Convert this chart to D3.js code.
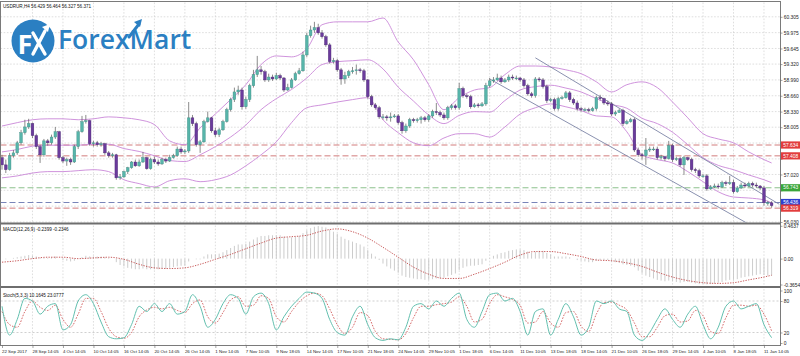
<!DOCTYPE html>
<html><head><meta charset="utf-8">
<script src="https://cdn.jsdelivr.net/npm/d3@7"></script>
<style>html,body{margin:0;padding:0;background:#fff;}svg{display:block;}</style>
</head><body>
<svg id="chart" width="800" height="356"></svg>
<script>
// ---------------- DATA ----------------
const symbolTitle = "USDRUR,H4  56.429 56.464 56.327 56.371";
const macdTitle = "MACD(12,26,9) -0.2399 -0.2346";
const stochTitle = "Stoch(5,3,3) 10.1645 23.0777";

const dateLabels = ["22 Sep 2017","28 Sep 14:05","4 Oct 14:05","10 Oct 14:05","16 Oct 14:05","20 Oct 14:05","26 Oct 14:05","1 Nov 14:05","7 Nov 10:05","9 Nov 18:05","14 Nov 14:05","17 Nov 10:05","21 Nov 18:05","24 Nov 14:05","29 Nov 10:05","1 Dec 18:05","6 Dec 14:05","11 Dec 10:05","13 Dec 18:05","18 Dec 14:05","21 Dec 10:05","26 Dec 18:05","29 Dec 14:05","4 Jan 10:05","8 Jan 18:05","11 Jan 14:05"];
const dateBars = [0,8,16,24,32,40,48,56,64,72,80,88,96,104,112,120,128,136,144,152,160,168,176,184,192,200];

const opens = [
57.37,57.22,57.12,57.41,57.47,57.68,57.89,58.01,58.08,57.83,
57.60,57.43,57.72,57.68,57.80,57.91,57.37,57.30,57.33,57.28,
57.60,57.91,58.12,58.14,57.66,57.68,57.64,57.66,57.47,57.41,
57.43,56.95,56.97,57.08,57.16,57.28,57.20,57.28,57.37,57.14,
57.33,57.28,57.24,57.33,57.30,57.37,57.41,57.55,57.49,57.51,
58.20,58.08,57.64,57.70,58.12,58.20,57.93,57.85,57.95,58.12,
58.37,58.58,58.74,58.78,58.43,58.58,58.87,59.10,59.20,59.16,
58.99,59.05,59.01,59.08,59.03,58.78,58.83,58.99,59.12,59.18,
59.51,59.91,60.03,60.08,59.97,59.89,59.72,59.37,59.39,59.20,
59.01,59.08,59.16,59.18,59.20,59.18,58.99,58.64,58.47,58.41,
58.22,58.22,58.20,58.22,58.24,58.10,57.93,58.03,58.16,58.14,
58.16,58.20,58.16,58.24,58.33,58.31,58.26,58.20,58.41,58.45,
58.41,58.81,58.66,58.64,58.43,58.47,58.45,58.49,58.87,58.97,
58.99,59.03,58.95,58.99,59.05,59.03,59.03,58.99,58.87,58.70,
58.66,59.01,58.99,58.85,58.56,58.58,58.39,58.60,58.62,58.72,
58.58,58.51,58.39,58.37,58.37,58.35,58.39,58.62,58.60,58.51,
58.49,58.28,58.31,58.35,58.08,58.12,58.16,57.53,57.43,57.41,
57.53,57.55,57.55,57.37,57.39,57.35,57.62,57.33,57.35,57.22,
57.37,57.33,57.12,57.10,56.99,56.99,56.72,56.76,56.78,56.76,
56.85,56.83,56.85,56.66,56.74,56.80,56.78,56.83,56.80,56.78,
56.74,56.43,56.429];
const highs = [
57.43,57.33,57.47,57.53,57.72,57.95,58.16,58.18,58.10,57.87,
57.64,57.76,57.76,57.85,58.01,57.93,57.41,57.37,57.37,57.64,
57.95,58.24,58.26,58.16,57.72,57.72,57.70,57.68,57.51,57.47,
57.45,57.03,57.10,57.18,57.30,57.33,57.33,57.49,57.39,57.37,
57.39,57.33,57.37,57.37,57.43,57.45,57.60,57.60,57.55,58.53,
58.26,58.12,57.74,58.16,58.33,58.22,57.99,57.99,58.16,58.41,
58.62,58.83,58.87,58.83,58.64,58.91,59.20,59.49,59.28,59.20,
59.12,59.10,59.14,59.12,59.05,58.91,59.03,59.16,59.24,59.58,
59.97,60.12,60.20,60.16,60.03,59.93,59.76,59.45,59.43,59.24,
59.16,59.20,59.26,59.31,59.24,59.22,59.01,58.68,58.51,58.45,
58.28,58.26,58.31,58.28,58.28,58.14,58.08,58.20,58.20,58.20,
58.24,58.24,58.28,58.37,58.51,58.35,58.31,58.45,58.49,58.49,
58.93,58.85,58.70,58.68,58.51,58.51,58.53,58.93,59.03,59.05,
59.12,59.08,59.03,59.10,59.10,59.08,59.05,59.03,58.91,58.74,
59.05,59.05,59.03,58.89,58.62,58.62,58.64,58.66,58.76,58.76,
58.62,58.56,58.43,58.41,58.41,58.43,58.66,58.68,58.62,58.56,
58.53,58.35,58.39,58.39,58.16,58.20,58.20,57.58,57.47,57.78,
57.60,57.60,57.60,57.43,57.41,57.72,57.66,57.39,57.39,57.41,
57.39,57.37,57.16,57.14,57.03,57.03,56.80,56.83,56.83,56.89,
56.89,56.99,56.91,56.78,56.85,56.85,56.87,56.87,56.85,56.80,
56.78,56.47,56.464];
const lows = [
57.12,57.05,57.10,57.37,57.43,57.64,57.85,57.97,57.78,57.55,
57.26,57.39,57.62,57.64,57.76,57.33,57.26,57.20,57.22,57.26,
57.55,57.89,58.08,57.62,57.60,57.60,57.60,57.43,57.37,57.37,
56.91,56.91,56.95,57.03,57.14,57.18,57.18,57.26,57.12,57.12,
57.24,57.20,57.22,57.26,57.28,57.35,57.39,57.45,57.45,57.47,
58.03,57.60,57.47,57.68,58.10,57.89,57.80,57.80,57.93,58.10,
58.33,58.53,58.68,58.37,58.39,58.53,58.83,59.05,59.10,58.95,
58.95,58.97,58.99,58.99,58.74,58.76,58.81,58.97,59.10,59.16,
59.47,59.87,59.97,59.93,59.85,59.68,59.33,59.33,59.16,58.89,
58.91,59.03,59.12,59.10,59.14,58.95,58.60,58.43,58.37,58.18,
58.16,58.14,58.12,58.20,58.06,57.87,57.89,57.99,58.10,58.10,
58.08,58.12,58.12,58.20,58.26,58.22,58.16,58.16,58.37,58.37,
58.37,58.62,58.60,58.39,58.41,58.41,58.43,58.45,58.83,58.93,
58.97,58.91,58.93,58.95,58.99,58.99,58.95,58.83,58.66,58.62,
58.62,58.95,58.81,58.51,58.53,58.35,58.35,58.58,58.60,58.53,
58.47,58.35,58.33,58.33,58.31,58.33,58.35,58.56,58.47,58.45,
58.24,58.24,58.31,58.03,58.06,58.10,57.49,57.39,57.33,57.22,
57.49,57.51,57.33,57.33,57.30,57.33,57.28,57.30,57.18,57.01,
57.30,57.08,57.05,56.95,56.95,56.68,56.70,56.74,56.72,56.74,
56.78,56.80,56.62,56.64,56.72,56.74,56.76,56.76,56.74,56.70,
56.37,56.37,56.327];
const closes = [
57.22,57.12,57.41,57.47,57.68,57.89,58.01,58.08,57.83,57.60,
57.43,57.72,57.68,57.80,57.91,57.37,57.30,57.33,57.28,57.60,
57.91,58.12,58.14,57.66,57.68,57.64,57.66,57.47,57.41,57.43,
56.95,56.97,57.08,57.16,57.28,57.20,57.28,57.37,57.14,57.33,
57.28,57.24,57.33,57.30,57.37,57.41,57.55,57.49,57.51,58.20,
58.08,57.64,57.70,58.12,58.20,57.93,57.85,57.95,58.12,58.37,
58.58,58.74,58.78,58.43,58.58,58.87,59.10,59.20,59.16,58.99,
59.05,59.01,59.08,59.03,58.78,58.83,58.99,59.12,59.18,59.51,
59.91,60.03,60.08,59.97,59.89,59.72,59.37,59.39,59.20,59.01,
59.08,59.16,59.18,59.20,59.18,58.99,58.64,58.47,58.41,58.22,
58.22,58.20,58.22,58.24,58.10,57.93,58.03,58.16,58.14,58.16,
58.20,58.16,58.24,58.33,58.31,58.26,58.20,58.41,58.45,58.41,
58.81,58.66,58.64,58.43,58.47,58.45,58.49,58.87,58.97,58.99,
59.03,58.95,58.99,59.05,59.03,59.03,58.99,58.87,58.70,58.66,
59.01,58.99,58.85,58.56,58.58,58.39,58.60,58.62,58.72,58.58,
58.51,58.39,58.37,58.37,58.35,58.39,58.62,58.60,58.51,58.49,
58.28,58.31,58.35,58.08,58.12,58.16,57.53,57.43,57.41,57.53,
57.55,57.55,57.37,57.39,57.35,57.62,57.33,57.35,57.22,57.37,
57.33,57.12,57.10,56.99,56.99,56.72,56.76,56.78,56.76,56.85,
56.83,56.85,56.66,56.74,56.80,56.78,56.83,56.80,56.78,56.74,
56.43,56.43,56.371];

// Bollinger Bands (20,2) read at every 4th bar
const bbBars = [0,4,8,12,16,20,24,28,32,36,40,44,48,52,56,60,64,68,72,76,80,84,88,92,96,100,104,108,112,116,120,124,128,132,136,140,144,148,152,156,160,164,168,172,176,180,184,188,192,196,200,202];
const bbUpper = [
58.03,58.10,58.16,58.18,58.18,58.16,58.18,58.22,58.20,58.16,
58.06,57.72,57.64,57.99,58.28,58.58,58.89,59.31,59.49,59.47,
59.64,60.14,60.20,60.20,60.20,60.28,59.78,59.41,58.89,58.37,
58.62,58.78,58.83,59.10,59.28,59.28,59.26,59.20,59.12,58.95,
58.74,58.89,58.95,58.83,58.53,58.20,57.87,57.76,57.68,57.49,
57.33,57.26];
const bbMiddle = [
57.49,57.54,57.61,57.63,57.63,57.63,57.65,57.65,57.56,57.50,
57.41,57.31,57.29,57.43,57.60,57.80,58.05,58.37,58.60,58.79,
59.03,59.31,59.37,59.39,59.41,59.22,58.84,58.55,58.26,58.08,
58.25,58.33,58.32,58.56,58.78,58.85,58.88,58.82,58.74,58.60,
58.48,58.40,58.19,58.08,57.90,57.64,57.37,57.21,57.12,57.01,
56.91,56.85];
const bbLower = [
56.95,56.99,57.05,57.08,57.08,57.10,57.12,57.08,56.91,56.83,
56.76,56.89,56.93,56.87,56.91,57.01,57.20,57.43,57.70,58.10,
58.41,58.47,58.53,58.58,58.62,58.16,57.89,57.68,57.62,57.78,
57.87,57.87,57.80,58.01,58.28,58.41,58.49,58.43,58.35,58.24,
58.22,57.91,57.43,57.33,57.26,57.08,56.87,56.66,56.55,56.53,
56.49,56.43];

// MACD main (histogram), one value per bar; signal read at bbBars
const macdMain = [
0.00,-0.01,0.00,0.01,0.02,0.03,0.04,0.05,0.04,0.03,
0.01,0.01,0.01,0.02,0.03,0.00,-0.02,-0.03,-0.04,-0.03,
0.00,0.02,0.04,0.03,0.03,0.03,0.03,0.02,0.01,0.00,
-0.05,-0.09,-0.11,-0.13,-0.14,-0.15,-0.15,-0.14,-0.15,-0.15,
-0.15,-0.15,-0.14,-0.14,-0.13,-0.12,-0.11,-0.10,-0.10,-0.04,
0.00,-0.01,-0.01,0.03,0.06,0.06,0.06,0.07,0.09,0.12,
0.15,0.18,0.20,0.20,0.21,0.24,0.27,0.30,0.32,0.32,
0.33,0.33,0.33,0.33,0.31,0.30,0.30,0.31,0.32,0.36,
0.40,0.43,0.45,0.46,0.45,0.44,0.41,0.38,0.35,0.31,
0.28,0.26,0.24,0.22,0.20,0.17,0.12,0.07,0.03,-0.02,
-0.07,-0.11,-0.14,-0.17,-0.20,-0.24,-0.26,-0.27,-0.28,-0.29,
-0.29,-0.30,-0.30,-0.29,-0.28,-0.28,-0.27,-0.25,-0.23,-0.21,
-0.16,-0.13,-0.11,-0.10,-0.10,-0.09,-0.08,-0.03,0.01,0.04,
0.06,0.08,0.09,0.11,0.12,0.13,0.13,0.12,0.10,0.08,
0.10,0.11,0.11,0.08,0.06,0.03,0.03,0.03,0.03,0.02,
0.00,-0.02,-0.03,-0.04,-0.05,-0.05,-0.03,-0.02,-0.02,-0.02,
-0.04,-0.05,-0.06,-0.08,-0.09,-0.10,-0.12,-0.17,-0.21,-0.24,
-0.26,-0.28,-0.30,-0.31,-0.32,-0.31,-0.32,-0.33,-0.34,-0.33,
-0.33,-0.34,-0.35,-0.36,-0.36,-0.365,-0.36,-0.35,-0.34,-0.33,
-0.31,-0.30,-0.30,-0.29,-0.27,-0.26,-0.25,-0.24,-0.23,-0.22,
-0.23,-0.24,-0.2399];
const macdSignal = [
-0.05,-0.03,0.00,0.02,0.02,0.00,0.01,0.02,-0.01,-0.08,
-0.13,-0.14,-0.13,-0.08,-0.01,0.06,0.14,0.22,0.29,0.31,
0.33,0.39,0.42,0.38,0.29,0.16,0.02,-0.12,-0.22,-0.28,
-0.28,-0.22,-0.14,-0.05,0.05,0.10,0.10,0.07,0.03,-0.02,
-0.03,-0.06,-0.11,-0.19,-0.26,-0.31,-0.34,-0.35,-0.34,-0.30,
-0.26,-0.2346];

// Stochastic (5,3,3) read at every 2nd bar
const stochStep = 2;
const stochMain = [
70,15,45,85,80,55,70,75,25,35,
80,92,75,40,12,8,10,35,70,60,
75,60,75,55,60,92,70,30,45,75,
92,85,55,88,95,75,25,50,70,85,
97,95,85,45,20,15,50,70,35,10,
5,8,6,30,70,75,65,80,70,85,
95,45,30,60,92,95,80,85,60,15,
60,65,15,45,75,50,15,30,80,75,
80,65,60,15,5,20,45,65,45,30,
55,70,35,8,30,70,80,65,70,75,
35,10.16];
const stochSignal = [
60,35,30,60,80,68,62,72,45,30,
55,85,85,60,28,12,9,20,50,63,
68,65,68,62,58,75,82,50,38,58,
82,88,70,72,90,85,50,40,60,78,
90,95,90,65,35,18,30,58,52,22,
8,7,6,18,48,70,70,73,75,78,
88,70,40,45,75,92,88,83,72,38,
40,60,38,30,58,60,32,22,55,77,
78,72,63,38,12,12,30,52,55,40,
42,62,52,22,18,48,72,72,70,72,
55,23.08];

const priceTicks = [60.305,59.975,59.645,59.320,58.990,58.660,58.330,58.005,57.675,57.345,57.020,56.690,56.360,56.030];
const levelValues = [57.634,57.408,56.743,56.436,56.319];
const levelKinds = ["red","red","green","blue","red"];
const channelBars = [[140,204],[128,204]];
const channelPrices = [[59.45,56.40],[59.01,55.63]];
const macdTicks = [0.4637,0,-0.3654];
const macdTickText = ["0.4637","0.00","-0.3654"];
const stochTicks = [100,80,20,0];
const stochLevels = [80,20];

// ---------------- DRAW ----------------
const svg = d3.select("#chart");
const FONT = "'Liberation Sans', Arial, sans-serif";
const L = 0.5, R = 780.5;
const P = {mainTop: 2.5, mainBot: 222.5, macdTop: 224.5, macdBot: 285.8, stTop: 288, stBot: 345.5};

const x = d3.scaleLinear().domain([0, 202]).range([2, 771.6]);
const yP = d3.scaleLinear().domain([56.03, 60.5925]).range([222, 3]);
const yM = d3.scaleLinear().domain([-0.3654, 0.4637]).range([284.5, 225.8]);
const yS = d3.scaleLinear().domain([0, 100]).range([343, 290.5]);

svg.append("rect").attr("width",800).attr("height",356).attr("fill","#fff");

const defs = svg.append("defs");
function clip(id, y0, y1){
  defs.append("clipPath").attr("id", id).append("rect")
    .attr("x", L).attr("y", y0).attr("width", R - L).attr("height", y1 - y0);
}
clip("cMain", P.mainTop, P.mainBot);
clip("cMacd", P.macdTop + 1, P.macdBot - 1);
clip("cSt", P.stTop + 1, P.stBot);

// grid
const grid = svg.append("g").attr("stroke","#c8c8c8").attr("stroke-width",0.6).attr("stroke-dasharray","1.6,1.6");
const panels = [[P.mainTop, P.mainBot],[P.macdTop+1, P.macdBot-1],[P.stTop+1, P.stBot]];
dateBars.slice(1).forEach(b => panels.forEach(([a, c]) =>
  grid.append("line").attr("x1", x(b)).attr("x2", x(b)).attr("y1", a).attr("y2", c)));
priceTicks.forEach(p => grid.append("line").attr("x1", L).attr("x2", R).attr("y1", yP(p)).attr("y2", yP(p)));
stochLevels.forEach(v => grid.append("line").attr("x1", L).attr("x2", R).attr("y1", yS(v)).attr("y2", yS(v))
  .attr("stroke","#b0b0b0").attr("stroke-dasharray","2,2"));

// logo
const logo = svg.append("g");
logo.append("circle").attr("cx",33).attr("cy",41).attr("r",21.5).attr("fill","#2b7fc2");
logo.append("text").attr("x",17.5).attr("y",54).text("F")
  .attr("font-family","'Open Sans', sans-serif").attr("font-weight",700).attr("font-size",27).attr("fill","#fff");
logo.append("path").attr("d","M33 54 L45 31 M33 33 L45 54").attr("stroke","#fff").attr("stroke-width",3.4).attr("fill","none").attr("stroke-linecap","round");
logo.append("path").attr("d","M42 27 L50 24 L48 32 Z").attr("fill","#fff");
logo.append("text").attr("x",58).attr("y",48.5).text("ForexMart")
  .attr("font-family","'Open Sans', sans-serif").attr("font-weight",600).attr("font-size",26.5).attr("fill","#2b7fc2");
logo.append("path").attr("d","M129 37 L139 24").attr("stroke","#2b7fc2").attr("stroke-width",3).attr("stroke-linecap","round");
logo.append("path").attr("d","M134 22 L142 19 L140 27 Z").attr("fill","#2b7fc2");

// main panel content
const gMain = svg.append("g").attr("clip-path","url(#cMain)");
const levelLine = {red:"#d27c7c", green:"#8cc08c", blue:"#7884b8"};
const levelBg = {red:"#e23d3d", green:"#3aa63a", blue:"#2e3fcf"};
levelValues.forEach((v,i) => gMain.append("line").attr("x1",L).attr("x2",R).attr("y1",yP(v)).attr("y2",yP(v))
  .attr("stroke", levelLine[levelKinds[i]]).attr("stroke-width",1).attr("stroke-dasharray","6,3"));

const bbLine = d3.line().x((d,i) => x(bbBars[i])).y(d => yP(d)).curve(d3.curveMonotoneX);
[bbUpper, bbMiddle, bbLower].forEach(arr => gMain.append("path").attr("d", bbLine(arr))
  .attr("fill","none").attr("stroke","#c987d8").attr("stroke-width",0.9));

channelBars.forEach((bars,k) => gMain.append("line")
  .attr("x1", x(bars[0])).attr("y1", yP(channelPrices[k][0]))
  .attr("x2", x(bars[1])).attr("y2", yP(channelPrices[k][1]))
  .attr("stroke","#7d84a6").attr("stroke-width",0.9));

const candles = gMain.append("g");
closes.forEach((c,i) => {
  const o = opens[i], bull = c >= o;
  candles.append("line").attr("x1",x(i)).attr("x2",x(i)).attr("y1",yP(highs[i])).attr("y2",yP(lows[i]))
    .attr("stroke","#5a5a5a").attr("stroke-width",0.7);
  const y0 = yP(Math.max(o,c)), y1 = yP(Math.min(o,c));
  candles.append("rect").attr("x",x(i)-1.35).attr("width",2.7)
    .attr("y", y0).attr("height", Math.max(y1 - y0, 0.8))
    .attr("fill", bull ? "#57b5aa" : "#6b3b9d").attr("stroke", bull ? "#3f8e86" : "#4a2870").attr("stroke-width",0.4);
});

// MACD
const gMacd = svg.append("g").attr("clip-path","url(#cMacd)");
macdMain.forEach((v,i) => gMacd.append("line").attr("x1",x(i)).attr("x2",x(i)).attr("y1",yM(0)).attr("y2",yM(v))
  .attr("stroke","#c6c6c6").attr("stroke-width",0.9));
gMacd.append("path").attr("d", d3.line().x((d,i)=>x(bbBars[i])).y(d=>yM(d)).curve(d3.curveMonotoneX)(macdSignal))
  .attr("fill","none").attr("stroke","#c24a4a").attr("stroke-width",0.9).attr("stroke-dasharray","1.3,1.3");

// Stochastic
const gSt = svg.append("g").attr("clip-path","url(#cSt)");
const stLine = d3.line().x((d,i)=>x(i*stochStep)).y(d=>yS(d)).curve(d3.curveMonotoneX);
gSt.append("path").attr("d", stLine(stochSignal)).attr("fill","none").attr("stroke","#d05a5a").attr("stroke-width",0.9).attr("stroke-dasharray","1.6,1.4");
gSt.append("path").attr("d", stLine(stochMain)).attr("fill","none").attr("stroke","#62bfae").attr("stroke-width",1);

// frames
const frame = svg.append("g").attr("stroke","#7a7a7a").attr("fill","none");
frame.append("rect").attr("x",L).attr("y",1.5).attr("width",R-L).attr("height",P.stBot-1.5).attr("stroke-width",1);
frame.append("line").attr("x1",L).attr("x2",R).attr("y1",223.5).attr("y2",223.5).attr("stroke-width",2).attr("stroke","#6e6e6e");
frame.append("line").attr("x1",L).attr("x2",R).attr("y1",287).attr("y2",287).attr("stroke-width",2).attr("stroke","#6e6e6e");

// axes
function styleAxis(g, size){
  g.select(".domain").remove();
  g.selectAll("text").attr("font-family",FONT).attr("font-size",size).attr("fill","#222");
  g.selectAll(".tick line").attr("stroke","#666").attr("stroke-width",0.6);
}
const gy = svg.append("g").attr("transform","translate(780.5,0)")
  .call(d3.axisRight(yP).tickValues(priceTicks).tickFormat(d3.format(".3f")).tickSize(2).tickPadding(1.2));
styleAxis(gy, "4.9px");
// tick labels that sit under a level label are hidden, as in the terminal
gy.selectAll(".tick").filter(d => levelValues.some(v => Math.abs(yP(v) - yP(d)) < 7.4)).select("text").remove();
const gym = svg.append("g").attr("transform","translate(780.5,0)")
  .call(d3.axisRight(yM).tickValues(macdTicks).tickFormat((d,i)=>macdTickText[i]).tickSize(2).tickPadding(1.2));
styleAxis(gym, "4.9px");
const gys = svg.append("g").attr("transform","translate(780.5,0)")
  .call(d3.axisRight(yS).tickValues(stochTicks).tickFormat(d3.format("d")).tickSize(2).tickPadding(1.2));
styleAxis(gys, "4.9px");
const gx = svg.append("g").attr("transform","translate(0,"+P.stBot+")")
  .call(d3.axisBottom(x).tickValues(dateBars).tickFormat((d,i)=>dateLabels[i]).tickSize(2.5).tickPadding(1.6));
styleAxis(gx, "4.4px");
gx.selectAll("text").attr("text-anchor","start").attr("dx","-0.5");

// level labels on the price axis
const gLab = svg.append("g");
levelValues.forEach((v,i) => {
  gLab.append("rect").attr("x",781).attr("y",yP(v)-3.6).attr("width",19).attr("height",7.2).attr("fill",levelBg[levelKinds[i]]);
  gLab.append("text").attr("x",783.2).attr("y",yP(v)).attr("dy","0.34em").text(d3.format(".3f")(v))
    .attr("font-family",FONT).attr("font-size","4.9px").attr("fill","#fff");
});

// titles
const tt = (s,xx,yy) => svg.append("text").attr("x",xx).attr("y",yy).text(s)
  .attr("font-family",FONT).attr("font-size","4.6px").attr("fill","#111");
tt(symbolTitle, 3, 7.5);
tt(macdTitle, 3, 231);
tt(stochTitle, 3, 296.5);
</script>
</body></html>
